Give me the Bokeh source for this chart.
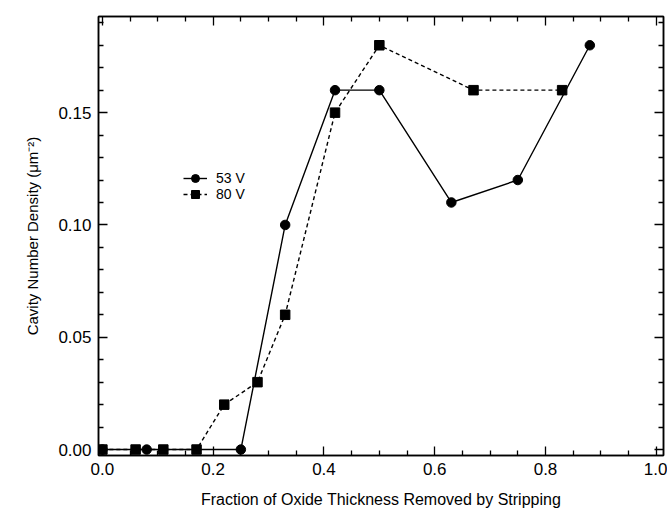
from bokeh.plotting import figure
from bokeh.models import (FixedTicker, NumeralTickFormatter, LinearAxis, Range1d,
                          Legend, LegendItem)
from bokeh.embed import file_html
from bokeh.resources import INLINE

# ---- data ----
x_53v = [0.0, 0.08, 0.25, 0.33, 0.42, 0.50, 0.63, 0.75, 0.88]
y_53v = [0.0, 0.0, 0.0, 0.10, 0.16, 0.16, 0.11, 0.12, 0.18]
x_80v = [0.0, 0.06, 0.11, 0.17, 0.22, 0.28, 0.33, 0.42, 0.50, 0.67, 0.83]
y_80v = [0.0, 0.0, 0.0, 0.0, 0.02, 0.03, 0.06, 0.15, 0.18, 0.16, 0.16]

x_major = [0.0, 0.2, 0.4, 0.6, 0.8, 1.0]
x_minor = [0.05, 0.1, 0.15, 0.25, 0.3, 0.35, 0.45, 0.5, 0.55, 0.65, 0.7, 0.75,
           0.85, 0.9, 0.95]
y_major = [0.00, 0.05, 0.10, 0.15]
y_minor = [0.01, 0.02, 0.03, 0.04, 0.06, 0.07, 0.08, 0.09, 0.11, 0.12, 0.13,
           0.14, 0.16, 0.17, 0.18, 0.19]

x_title = "Fraction of Oxide Thickness Removed by Stripping"
y_title = "Cavity Number Density (\u03bcm\u207b\u00b2)"
names = ["53 V", "80 V"]

FONT = "Liberation Sans"

p = figure(width=667, height=510, output_backend="svg", toolbar_location=None,
           x_range=Range1d(-0.007, 1.013), y_range=Range1d(-0.00265, 0.1928),
           min_border_left=98, min_border_right=4, min_border_top=16,
           min_border_bottom=51)
p.xgrid.visible = False
p.ygrid.visible = False
p.outline_line_color = "black"
p.outline_line_width = 1.5
p.background_fill_color = "white"
p.border_fill_color = "white"


def style_axis(ax, major, minor, fmt, show_labels=True):
    ax.ticker = FixedTicker(ticks=major, minor_ticks=minor)
    ax.formatter = NumeralTickFormatter(format=fmt)
    ax.axis_line_color = "black"
    ax.axis_line_width = 1.5
    ax.major_tick_in = 9
    ax.major_tick_out = 0
    ax.minor_tick_in = 5
    ax.minor_tick_out = 0
    ax.major_tick_line_width = 1.3
    ax.minor_tick_line_width = 1.3
    ax.major_tick_line_color = "black"
    ax.minor_tick_line_color = "black"
    ax.major_label_text_font = FONT
    ax.major_label_text_color = "black"
    if show_labels:
        ax.major_label_text_font_size = "17px"
    else:
        ax.major_label_text_font_size = "0px"
        ax.major_label_standoff = 0
        ax.major_label_text_alpha = 0


xb = p.xaxis[0]
yl = p.yaxis[0]
style_axis(xb, x_major, x_minor, "0.0")
style_axis(yl, y_major, y_minor, "0.00")
xb.axis_label = x_title
yl.axis_label = y_title
for ax, sz in ((xb, "16px"), (yl, "15px")):
    ax.axis_label_text_font = FONT
    ax.axis_label_text_font_size = sz
    ax.axis_label_text_font_style = "normal"
    ax.axis_label_text_color = "black"
xb.major_label_standoff = 7
xb.axis_label_standoff = 13
yl.major_label_standoff = 7
yl.axis_label_standoff = 14

xt = LinearAxis()
style_axis(xt, x_major, x_minor, "0.0", show_labels=False)
yr = LinearAxis()
style_axis(yr, y_major, y_minor, "0.00", show_labels=False)
p.add_layout(xt, "above")
p.add_layout(yr, "right")

r53_line = p.line(x_53v, y_53v, line_color="black", line_width=1.4)
r53_pts = p.scatter(x_53v, y_53v, marker="circle", size=9.5,
                    fill_color="black", line_color="black")
r80_line = p.line(x_80v, y_80v, line_color="black", line_width=1.4,
                  line_dash="4 3")
r80_pts = p.scatter(x_80v, y_80v, marker="square", size=9.5,
                    fill_color="black", line_color="black")

legend_rows = [(names[0], [r53_line, r53_pts], 267),
               (names[1], [r80_line, r80_pts], 251)]
for label, rends, ypos in legend_rows:
    lg = Legend(items=[LegendItem(label=label, renderers=rends)],
                location=(85, ypos), margin=0, padding=0, spacing=0,
                glyph_width=24, glyph_height=20, label_height=13,
                label_standoff=9, border_line_color=None,
                background_fill_alpha=0,
                label_text_font=FONT, label_text_font_size="14px",
                label_text_color="black")
    p.add_layout(lg, "center")

open("out.html", "w").write(file_html(p, INLINE))
